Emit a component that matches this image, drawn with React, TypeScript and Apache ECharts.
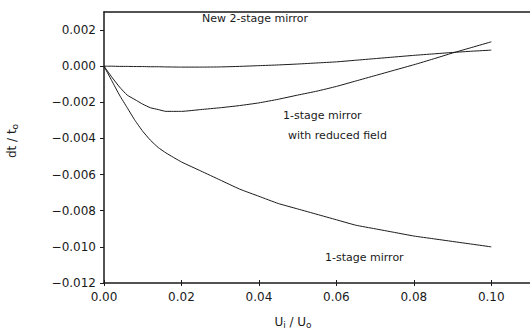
import React, { useEffect, useRef } from "react";
import * as echarts from "echarts";

const xs = [0, 0.002, 0.004, 0.006, 0.008, 0.01, 0.012, 0.014, 0.016, 0.02, 0.025, 0.03, 0.035, 0.04, 0.045, 0.05, 0.055, 0.06, 0.065, 0.07, 0.075, 0.08, 0.085, 0.09, 0.095, 0.1];
const oneStage = [0, -0.0008, -0.0016, -0.0023, -0.003, -0.0036, -0.0041, -0.0045, -0.0048, -0.0053, -0.0058, -0.0063, -0.0068, -0.0072, -0.0076, -0.0079, -0.0082, -0.0085, -0.0088, -0.009, -0.0092, -0.0094, -0.00955, -0.0097, -0.00985, -0.01];
const reducedField = [0, -0.0006, -0.00115, -0.0016, -0.00185, -0.0021, -0.0023, -0.0024, -0.0025, -0.0025, -0.0024, -0.0023, -0.00218, -0.00203, -0.00183, -0.0016, -0.00138, -0.00112, -0.00082, -0.00052, -0.00022, 0.00008, 0.0004, 0.00073, 0.00104, 0.00135];
const twoStage = [0, 0, -0.00001, -0.00001, -0.00002, -0.00002, -0.00003, -0.00003, -0.00004, -0.00005, -0.00005, -0.00004, -0.00001, 0.00003, 0.00007, 0.00012, 0.00018, 0.00024, 0.00033, 0.00042, 0.00051, 0.0006, 0.00068, 0.00076, 0.00083, 0.00089];

const xTicks = [0, 0.02, 0.04, 0.06, 0.08, 0.1];
const yTicks = [-0.012, -0.01, -0.008, -0.006, -0.004, -0.002, 0, 0.002];

const FONT = "DejaVu Sans";
const INK = "#1a1a1a";

function pairs(ys: number[]) {
  return xs.map((x, i) => [x, ys[i]]);
}

export default function App() {
  const ref = useRef<HTMLDivElement>(null);
  useEffect(() => {
    if (!ref.current) return;
    const chart = echarts.init(ref.current, null, { renderer: "svg" });
    const lineStyle = { color: INK, width: 1 };
    const axisBase = {
      type: "value" as const,
      min: 0,
      max: 0.11,
      splitLine: { show: false },
    };
    chart.setOption({
      animation: false,
      backgroundColor: "#fff",
      grid: { left: 104, right: 0, top: 12, bottom: 51 },
      xAxis: [
        {
          ...axisBase,
          position: "bottom",
          axisLine: { show: true, onZero: false, lineStyle: { color: INK, width: 1.5 } },
          axisTick: { show: true, length: 3, customValues: xTicks, lineStyle: { color: INK } },
          axisLabel: {
            customValues: xTicks,
            formatter: (v: number) => v.toFixed(2),
            color: INK,
            fontFamily: FONT,
            fontSize: 12,
            margin: 8,
          },
        },
        {
          ...axisBase,
          position: "bottom",
          axisLine: { show: false, onZero: false },
          axisTick: { show: true, inside: true, length: 3, customValues: xTicks, lineStyle: { color: INK } },
          axisLabel: { show: false },
        },
        {
          ...axisBase,
          position: "top",
          axisLine: { show: true, onZero: false, lineStyle: { color: INK, width: 1.5 } },
          axisTick: { show: false },
          axisLabel: { show: false },
        },
      ],
      yAxis: {
        type: "value",
        min: -0.012,
        max: 0.003,
        splitLine: { show: false },
        axisLine: { show: true, onZero: false, lineStyle: { color: INK, width: 1.5 } },
        axisTick: { show: true, length: 4, customValues: yTicks, lineStyle: { color: INK } },
        axisLabel: {
          customValues: yTicks,
          formatter: (v: number) => (v < 0 ? "\u2212" : "") + Math.abs(v).toFixed(3),
          color: INK,
          fontFamily: FONT,
          fontSize: 12,
          margin: 8,
        },
      },
      series: [
        { type: "line", name: "New 2-stage mirror", data: pairs(twoStage), showSymbol: false, smooth: 0.15, lineStyle, xAxisIndex: 0 },
        { type: "line", name: "1-stage mirror with reduced field", data: pairs(reducedField), showSymbol: false, smooth: 0.15, lineStyle, xAxisIndex: 0 },
        { type: "line", name: "1-stage mirror", data: pairs(oneStage), showSymbol: false, smooth: 0.15, lineStyle, xAxisIndex: 0 },
      ],
      graphic: [
        { type: "text", left: 202, top: 13, style: { text: "New 2-stage mirror", fill: INK, font: `11px "${FONT}"` } },
        { type: "text", left: 283, top: 110, style: { text: "1-stage mirror", fill: INK, font: `11px "${FONT}"` } },
        { type: "text", left: 288, top: 130, style: { text: "with reduced field", fill: INK, font: `11px "${FONT}"` } },
        { type: "text", left: 325, top: 252, style: { text: "1-stage mirror", fill: INK, font: `11px "${FONT}"` } },
        {
          type: "text",
          x: 12,
          y: 141,
          rotation: Math.PI / 2,
          style: {
            text: "dt / t{s|o}",
            fill: INK,
            font: `12px "${FONT}"`,
            align: "center",
            verticalAlign: "middle",
            rich: { s: { fontSize: 9, fontFamily: FONT, fill: INK, verticalAlign: "bottom", padding: [6, 0, 0, 0] } },
          },
        },
        {
          type: "text",
          x: 293,
          y: 322,
          style: {
            text: "U{s|i} / U{s|o}",
            fill: INK,
            font: `12px "${FONT}"`,
            align: "center",
            verticalAlign: "middle",
            rich: { s: { fontSize: 9, fontFamily: FONT, fill: INK, verticalAlign: "bottom", padding: [6, 0, 0, 0] } },
          },
        },
      ],
    });
    return () => chart.dispose();
  }, []);
  return <div ref={ref} style={{ position: "fixed", left: 0, top: 0, width: 530, height: 334 }} />;
}
